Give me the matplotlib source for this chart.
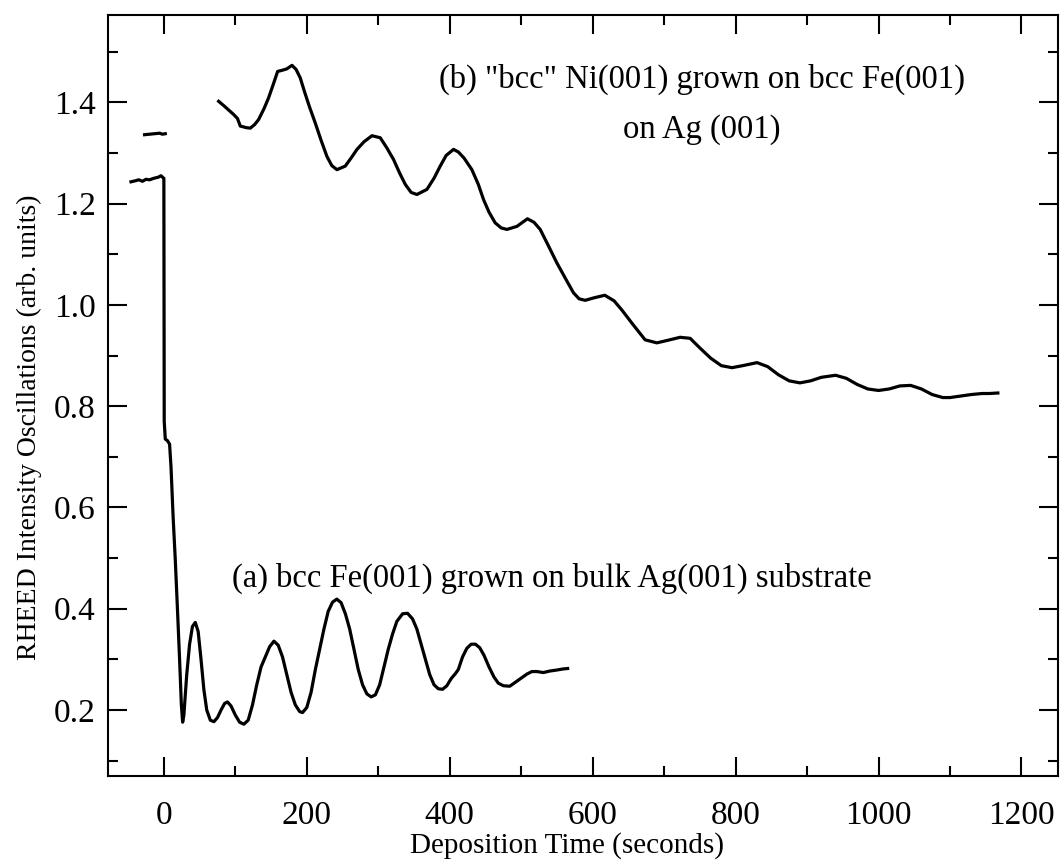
"""
RHEED intensity oscillations during growth of bcc Fe(001) and "bcc" Ni(001)
"""
import numpy as np
import matplotlib
matplotlib.use("Agg")
import matplotlib.pyplot as plt
from matplotlib.ticker import MultipleLocator

# (a) bcc Fe(001) on bulk Ag(001): pre-deposition plateau, shutter open at t=0
time_a = [-46, -40, -35, -30, -25, -20, -14, -8, -4, -1,
          0, 0.5, 2, 5, 8, 10, 13, 16, 19, 22, 24.5, 26.3, 28, 32, 36, 40,
          44, 48, 52, 56, 60, 65, 70, 75, 80, 85, 89, 94, 100, 106, 112,
          118, 124, 130, 136, 142, 148, 154, 160, 166, 172, 178, 184, 190,
          194, 200, 206, 212, 218, 224, 230, 236, 242, 248, 254, 260, 266,
          272, 278, 284, 290, 296, 302, 308, 314, 320, 326, 334, 341, 348,
          354, 360, 366, 372, 378, 384, 390, 396, 402, 408, 412, 418, 424,
          430, 436, 442, 448, 455, 462, 468, 475, 484, 492, 500, 508, 515,
          522, 531, 540, 550, 558, 565]
intens_a = [1.243, 1.245, 1.247, 1.244, 1.248, 1.247, 1.250, 1.252, 1.255, 1.251,
            1.250, 0.770, 0.735, 0.732, 0.725, 0.680, 0.580, 0.496, 0.400, 0.300, 0.210, 0.176, 0.190, 0.270, 0.330, 0.365,
            0.373, 0.355, 0.300, 0.240, 0.200, 0.180, 0.177, 0.185, 0.200, 0.213, 0.216, 0.208, 0.190, 0.176, 0.172,
            0.180, 0.210, 0.250, 0.285, 0.305, 0.325, 0.336, 0.328, 0.305, 0.270, 0.235, 0.210, 0.197,
            0.195, 0.205, 0.235, 0.280, 0.320, 0.360, 0.395, 0.413, 0.419, 0.412, 0.390, 0.360, 0.320,
            0.280, 0.250, 0.232, 0.226, 0.230, 0.250, 0.285, 0.320, 0.350, 0.375, 0.390, 0.391, 0.380,
            0.360, 0.330, 0.300, 0.270, 0.250, 0.242, 0.241, 0.248, 0.262, 0.272, 0.280, 0.305, 0.322,
            0.330, 0.330, 0.323, 0.308, 0.285, 0.265, 0.253, 0.248, 0.247, 0.255, 0.263, 0.271, 0.276,
            0.276, 0.274, 0.277, 0.279, 0.281, 0.282]

# short pre-deposition trace at ~1.34
time_pre = [-27, -20, -13, -6, -2, 2]
intens_pre = [1.336, 1.337, 1.338, 1.339, 1.337, 1.338]

# (b) "bcc" Ni(001) on bcc Fe(001) on Ag(001)
time_b = [76.6, 85, 92, 97.6, 103, 107, 110, 115, 121, 127, 132.6, 140,
          146.6, 153, 159.2, 165, 172, 179.3, 185, 190.9, 197, 204, 211.9,
          220, 228.2, 235, 242.2, 253.8, 262, 270.2, 280, 291.2, 302.8, 312,
          321.4, 330, 337.8, 346, 354.1, 368.1, 378, 386.7, 395, 405.3, 412,
          420, 431, 440, 447.3, 455, 463.6, 472, 480, 494, 508.8, 518, 526.6,
          538, 549.9, 562, 573.1, 581, 589.5, 602, 617, 630, 640.8, 656,
          673.4, 689.8, 705, 722.4, 736.4, 750, 765, 780, 795, 810, 830, 845,
          860, 875, 890, 905, 920, 940, 955, 970, 985, 1000, 1015, 1030, 1045,
          1060, 1075, 1090, 1100, 1115, 1130, 1145, 1155, 1167]
intens_b = [1.402, 1.392, 1.383, 1.376, 1.368, 1.353, 1.352, 1.350, 1.349, 1.356, 1.366, 1.387,
            1.409, 1.435, 1.461, 1.463, 1.466, 1.473, 1.465, 1.448, 1.420, 1.390, 1.359,
            1.325, 1.293, 1.275, 1.267, 1.274, 1.290, 1.307, 1.322, 1.334, 1.330, 1.310,
            1.287, 1.260, 1.238, 1.222, 1.218, 1.228, 1.250, 1.274, 1.295, 1.307, 1.302,
            1.290, 1.267, 1.238, 1.208, 1.183, 1.162, 1.152, 1.149, 1.155, 1.170, 1.163, 1.149,
            1.117, 1.083, 1.052, 1.024, 1.012, 1.009, 1.014, 1.019, 1.008, 0.990, 0.962,
            0.931, 0.925, 0.930, 0.936, 0.934, 0.915, 0.895, 0.880, 0.876, 0.880, 0.886, 0.878,
            0.862, 0.850, 0.846, 0.850, 0.857, 0.861, 0.855, 0.843, 0.834, 0.831, 0.834, 0.840, 0.841,
            0.834, 0.823, 0.817, 0.817, 0.820, 0.823, 0.825, 0.825, 0.826]

plt.rcParams["font.family"] = ["Liberation Serif", "DejaVu Serif"]
plt.rcParams["font.size"] = 23.5

fig = plt.figure(figsize=(10.6, 8.64), dpi=100)
ax = fig.add_axes([0.102, 0.102, 0.896, 0.881])

line_kw = dict(color="black", lw=2.3, solid_joinstyle="round")
ax.plot(time_a, intens_a, **line_kw)
ax.plot(time_pre, intens_pre, **line_kw)
ax.plot(time_b, intens_b, **line_kw)

ax.text(96, 0.46, "(a) bcc Fe(001) grown on bulk Ag(001) substrate",
        ha="left", va="center")
ax.text(753, 1.445, '(b) "bcc" Ni(001) grown on bcc Fe(001)',
        ha="center", va="center")
ax.text(753, 1.346, "on Ag (001)", ha="center", va="center")

ax.set_xlim(-78, 1251)
ax.set_ylim(0.07, 1.573)
ax.xaxis.set_major_locator(MultipleLocator(200))
ax.xaxis.set_minor_locator(MultipleLocator(100))
ax.yaxis.set_major_locator(MultipleLocator(0.2))
ax.yaxis.set_minor_locator(MultipleLocator(0.1))
ax.yaxis.set_major_formatter(matplotlib.ticker.FormatStrFormatter("%.1f"))

ax.tick_params(which="both", direction="in", top=True, right=True, width=1.5,
               labelsize=24)
ax.tick_params(which="major", length=14)
ax.tick_params(which="minor", length=7)
ax.tick_params(axis="x", which="major", pad=18)
ax.tick_params(axis="y", which="major", pad=9)
for sp in ax.spines.values():
    sp.set_linewidth(1.5)

ax.set_xlabel("Deposition Time (seconds)", fontsize=21)
ax.set_ylabel("RHEED Intensity Oscillations (arb. units)", fontsize=20)
ax.xaxis.set_label_coords(0.483, -0.074)
ax.yaxis.set_label_coords(-0.07, 0.458)

fig.savefig("out.png", dpi=100)
